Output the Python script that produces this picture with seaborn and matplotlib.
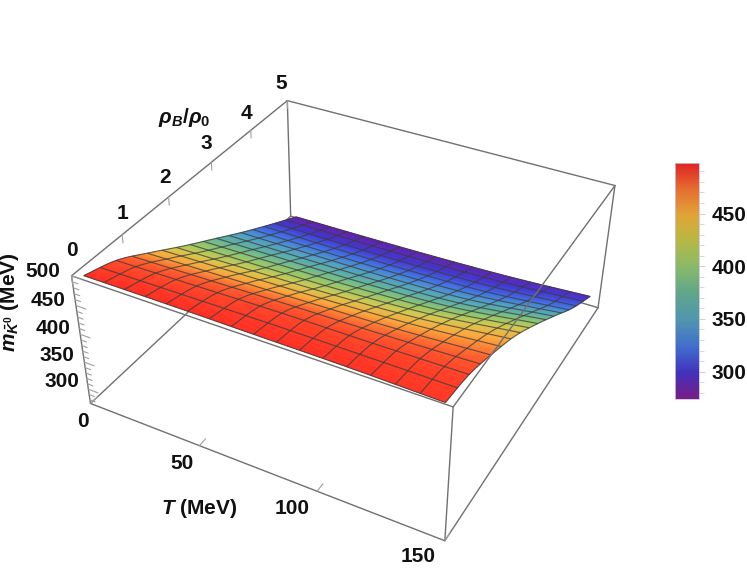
import numpy as np
import matplotlib
matplotlib.use("Agg")
import matplotlib.pyplot as plt
import seaborn as sns
from matplotlib.cm import ScalarMappable
from matplotlib.colors import Normalize
from mpl_toolkits.mplot3d import proj3d

W, H, DPI = 747, 585, 100

# ---- data ----
T_SAMPLES = [3, 40, 75, 110, 146]
RHO_SAMPLES = [0.1, 0.7, 1.4, 2.1, 2.8, 3.5, 4.2, 5.0]
MASS_T3 = [497, 480, 446, 410, 376, 342, 310, 275]
MASS_T40 = [497, 482, 449, 412, 377, 342, 309, 276]
MASS_T75 = [496, 484, 452, 415, 379, 343, 310, 278]
MASS_T110 = [495, 484, 456, 422, 385, 348, 314, 282]
MASS_T146 = [492, 485, 464, 438, 403, 365, 326, 290]

T_TICKS = [0, 50, 100, 150]
RHO_TICKS = [0, 1, 2, 3, 4, 5]
MASS_TICKS = [300, 350, 400, 450, 500]
MASS_MINOR = [280, 290, 310, 320, 330, 340, 360, 370, 380, 390, 410, 420, 430, 440, 460, 470, 480, 490]
CBAR_TICKS = [300, 350, 400, 450]
CBAR_MINOR = [280, 290, 310, 320, 330, 340, 360, 370, 380, 390, 410, 420, 430, 440, 460, 470, 480, 490]

T_RANGE = (0, 150)
RHO_RANGE = (0, 5)
MASS_RANGE = (273, 500)
CLIM = (274, 498)

# camera calibration: box corners (T index, rho index, mass index) -> image pixel
BOX_PIXELS = {
    (0, 0, 1): (72, 276), (0, 0, 0): (90, 403),
    (1, 0, 0): (445, 541), (1, 0, 1): (453, 407),
    (0, 1, 1): (287, 100), (0, 1, 0): (291, 217),
    (1, 1, 1): (615, 186), (1, 1, 0): (598, 307),
}

SURFACE_COLORS = ["#6a1ea8", "#4434d0", "#4070e6", "#50a0c8", "#60b4a0", "#94c86a",
                  "#d6c94e", "#fba83a", "#ff5a2c", "#ff2a20"]
BAR_COLORS = ["#781c86", "#4232bc", "#416ecd", "#5096af", "#5fa58c", "#87b969",
              "#b4b946", "#e1a537", "#e66e32", "#e12323"]

sns.set_theme(style="white")
plt.rcParams["font.family"] = ["Liberation Sans", "DejaVu Sans"]
plt.rcParams["mathtext.fontset"] = "custom"
plt.rcParams["mathtext.rm"] = "Liberation Sans:bold"
plt.rcParams["mathtext.it"] = "Liberation Sans:italic:bold"
plt.rcParams["mathtext.bf"] = "Liberation Sans:bold"
plt.rcParams["mathtext.default"] = "it"

surface_cmap = sns.blend_palette(SURFACE_COLORS, as_cmap=True)
bar_cmap = sns.blend_palette(BAR_COLORS, as_cmap=True)

fig = plt.figure(figsize=(W / DPI, H / DPI), dpi=DPI, facecolor="white")
ax = fig.add_axes([0, 0, 1, 1], projection="3d", computed_zorder=False)
ax.apply_aspect = lambda position=None: None
ax.set_axis_off()


def camera_matrix():
    rows = []
    for (i, j, k), (px, py) in BOX_PIXELS.items():
        X = [T_RANGE[i], RHO_RANGE[j], MASS_RANGE[k], 1.0]
        u, v = px, H - py
        rows.append([*X, 0, 0, 0, 0, *(-u * np.array(X))])
        rows.append([0, 0, 0, 0, *X, *(-v * np.array(X))])
    P = np.linalg.svd(np.array(rows))[2][-1].reshape(3, 4)
    if P[2] @ [0, 0, 400, 1] < 0:
        P = -P
    to_axes = ax.transData.inverted().get_matrix()
    P = to_axes @ P
    return np.vstack([P[0], P[1], [0, 0, 0, -1], P[2]])


M = camera_matrix()
ax.get_proj = lambda: M


def smooth(xq, x, y):
    """Cubic Hermite through the table values, only to shade each facet smoothly."""
    x, y = np.asarray(x, float), np.asarray(y, float)
    g = np.gradient(y, x)
    i = np.clip(np.searchsorted(x, xq) - 1, 0, len(x) - 2)
    h = x[i + 1] - x[i]
    s = (xq - x[i]) / h
    return ((2 * s**3 - 3 * s**2 + 1) * y[i] + (s**3 - 2 * s**2 + s) * h * g[i]
            + (-2 * s**3 + 3 * s**2) * y[i + 1] + (s**3 - s**2) * h * g[i + 1])


table = np.array([MASS_T3, MASS_T40, MASS_T75, MASS_T110, MASS_T146], float)
t_fine = np.linspace(T_SAMPLES[0], T_SAMPLES[-1], 129)
r_fine = np.linspace(RHO_SAMPLES[0], RHO_SAMPLES[-1], 129)
by_rho = np.array([smooth(r_fine, RHO_SAMPLES, row) for row in table])
Z = np.array([smooth(t_fine, T_SAMPLES, by_rho[:, j]) for j in range(len(r_fine))])
TT, RR = np.meshgrid(t_fine, r_fine)

BOX = dict(color="#707070", lw=1.0)


def edge(a, b, z):
    ax.plot(*zip(a, b), zorder=z, solid_capstyle="round", **BOX)


t0, t1 = T_RANGE
r0, r1 = RHO_RANGE
m0, m1 = MASS_RANGE
for a, b in [((t0, r0, m0), (t0, r1, m0)), ((t0, r1, m0), (t1, r1, m0)),
             ((t0, r1, m0), (t0, r1, m1)), ((t0, r1, m1), (t1, r1, m1)),
             ((t1, r0, m0), (t1, r1, m0)), ((t1, r1, m0), (t1, r1, m1)),
             ((t0, r0, m0), (t0, r0, m1)), ((t0, r0, m0), (t1, r0, m0)),
             ((t1, r0, m0), (t1, r0, m1)), ((t0, r0, m1), (t0, r1, m1)),
             ((t0, r0, m1), (t1, r0, m1))]:
    edge(a, b, 1)

surf = ax.plot_surface(TT, RR, Z, cmap=surface_cmap, vmin=CLIM[0], vmax=CLIM[1], rstride=1, cstride=1,
                       linewidth=0.4, antialiased=True, shade=False, zorder=2)
surf.set_edgecolor("face")
ax.plot_wireframe(TT, RR, Z, rstride=8, cstride=8, color="#3c3c3c", linewidth=0.85, alpha=0.75, zorder=3)
edge((t1, r0, m1), (t1, r1, m1), 4)

TICK = dict(color="#a0a0a0", lw=0.8)
for v in T_TICKS:
    ax.plot([v, v], [r0, r0 + 0.14], [m0, m0], zorder=1, **TICK)
for v in RHO_TICKS:
    ax.plot([t0, t0], [v, v], [m1, m1 - 14], zorder=1, **TICK)
for v in MASS_TICKS:
    ax.plot([t0, t0 + 4.5], [r0, r0], [v, v], zorder=1, **TICK)
for v in MASS_MINOR:
    ax.plot([t0, t0 + 2.5], [r0, r0], [v, v], zorder=1, **TICK)

FS = 15


def tick_label(pos, text, dx, dy):
    x, y, _ = proj3d.proj_transform(*pos, M)
    ax.annotate(text, xy=(x, y), xytext=(dx, -dy), textcoords="offset pixels", ha="center", va="center",
                fontsize=FS, fontweight="bold", color="#111111")


for v, d in zip(T_TICKS, [(-8, 18), (-17, 18), (-25, 17), (-27, 16)]):
    tick_label((v, r0, m0), str(v), *d)
for v, d in zip(RHO_TICKS, [(0, -25), (0, -21), (-3, -20), (-5, -19), (-4, -17), (-6, -17)]):
    tick_label((t0, v, m1), str(v), *d)
for v, d in zip(MASS_TICKS, [(-26, -8), (-27, -7), (-27, -6), (-28, -5), (-29, -4)]):
    tick_label((t0, r0, v), str(v), *d)

fig.text(199 / W, 1 - 508 / H, r"$T$ (MeV)", ha="center", va="center", fontsize=FS, fontweight="bold", color="#111111")
fig.text(184 / W, 1 - 118 / H, r"$\rho_B/\rho_0$", ha="center", va="center", fontsize=FS, color="#111111")
fig.text(10 / W, 1 - 302 / H, r"$m_{\bar{K}^0}$ (MeV)", rotation=90, ha="center", va="center", fontsize=FS,
         fontweight="bold", color="#111111")

# colour bar
cax = fig.add_axes([675 / W, 1 - 399 / H, 24 / W, 236 / H])
sm = ScalarMappable(norm=Normalize(*CLIM), cmap=bar_cmap)
cb = fig.colorbar(sm, cax=cax)
cb.outline.set_edgecolor("#c8c4d8")
cb.outline.set_linewidth(0.6)
cb.set_ticks(CBAR_TICKS)
cb.ax.set_yticks(CBAR_MINOR, minor=True)
cb.ax.tick_params(axis="y", which="major", length=4.5, width=0.7, color="#d0d0d0", pad=4.5,
                  labelsize=FS, labelcolor="#111111")
cb.ax.tick_params(axis="y", which="minor", length=3.5, width=0.7, color="#d8d8d8", right=True)
for lab in cb.ax.get_yticklabels():
    lab.set_fontweight("bold")

fig.savefig("out.png", dpi=DPI, facecolor="white")
